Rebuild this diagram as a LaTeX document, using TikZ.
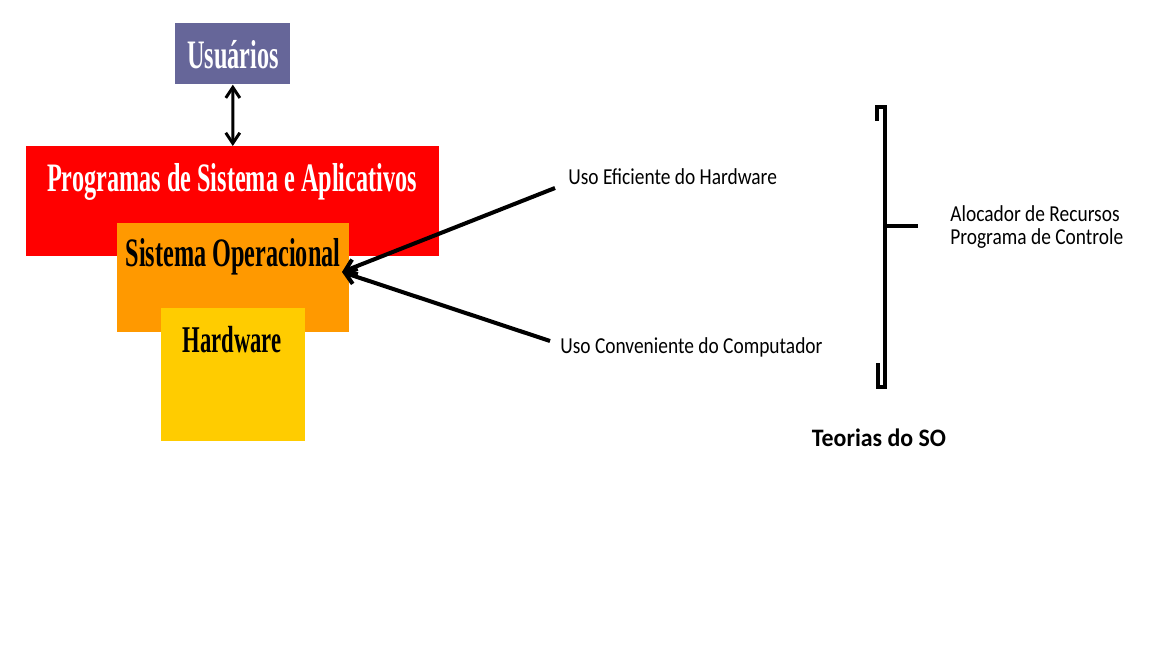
\documentclass[tikz,border=0pt]{standalone}
\usepackage{fontspec}
\newfontfamily\layerfont{Liberation Serif}[FakeStretch=0.6]
\newfontfamily\notefont{Carlito}[FakeStretch=0.85]
\newfontfamily\titlefont{Carlito}[FakeStretch=0.95]
\usetikzlibrary{arrows.meta}
\definecolor{usercolor}{RGB}{102,102,153}
\definecolor{socolor}{RGB}{255,153,0}
\definecolor{hwcolor}{RGB}{255,204,0}
\begin{document}
\begin{tikzpicture}[x=0.02cm,y=-0.02cm,
	layer node/.style={rectangle,inner sep=0pt,anchor=north west},
	layer text/.style={anchor=base,inner sep=0pt,font=\layerfont\bfseries\fontsize{23}{23}\selectfont},
	note node/.style={anchor=base west,inner sep=0pt,font=\notefont\fontsize{13}{13}\selectfont},
	link/.style={line width=2.3pt,-{Straight Barb[length=6pt,width=9pt]}}]
	\fill[white] (0,0) rectangle (1152,648);
	\useasboundingbox (0,0) rectangle (1152,648);

	% camadas
	\node[layer node, fill=usercolor, minimum width=2.3cm, minimum height=1.22cm] at (175,23) (users) {};
	\node[layer node, fill=red, minimum width=8.26cm, minimum height=2.2cm] at (26,146) (apps) {};
	\node[layer node, fill=socolor, minimum width=4.64cm, minimum height=2.18cm] at (117,223) (so) {};
	\node[layer node, fill=hwcolor, minimum width=2.88cm, minimum height=2.66cm] at (161,308) (hw) {};

	\node[layer text, white] at (233,69) (users text) {Usuários};
	\node[layer text, white] at (232,192) (apps text) {Programas de Sistema e Aplicativos};
	\node[layer text, font=\layerfont\bfseries\fontsize{23}{23}\selectfont] at (233,267) (so text) {Sistema Operacional};
	\node[layer text, font=\layerfont\bfseries\fontsize{21.5}{21.5}\selectfont] at (232,353) (hw text) {Hardware};

	\draw[line width=1.7pt, {Straight Barb[length=6pt,width=8pt]}-{Straight Barb[length=6pt,width=8pt]}] (users.south) -- (apps.north);

	% objetivos
	\node[note node] at (568,185) (eff) {Uso Eficiente do Hardware};
	\node[note node] at (560,354) (conv) {Uso Conveniente do Computador};
	\coordinate (so tip) at (342,272);
	\coordinate (eff end) at (555,188);
	\coordinate (conv end) at (550,341);
	\draw[link] (eff end) -- (so tip);
	\draw[link] (conv end) -- (so tip);

	% teorias
	\draw[line width=2.3pt] (877,121) -- (877,107) -- (885,107) -- (885,387) -- (878,387) -- (878,363);
	\coordinate (tick end) at (918,226);
	\draw[line width=2.3pt] (885,226) -- (tick end);
	\node[note node, align=left, font=\notefont\fontsize{13}{13.6}\selectfont] at (950,245) (roles) {Alocador de Recursos\\Programa de Controle};
	\node[anchor=base, inner sep=0pt, font=\titlefont\bfseries\fontsize{14.3}{14.3}\selectfont] at (879,446) (theory) {Teorias do SO};
\end{tikzpicture}
\end{document}
